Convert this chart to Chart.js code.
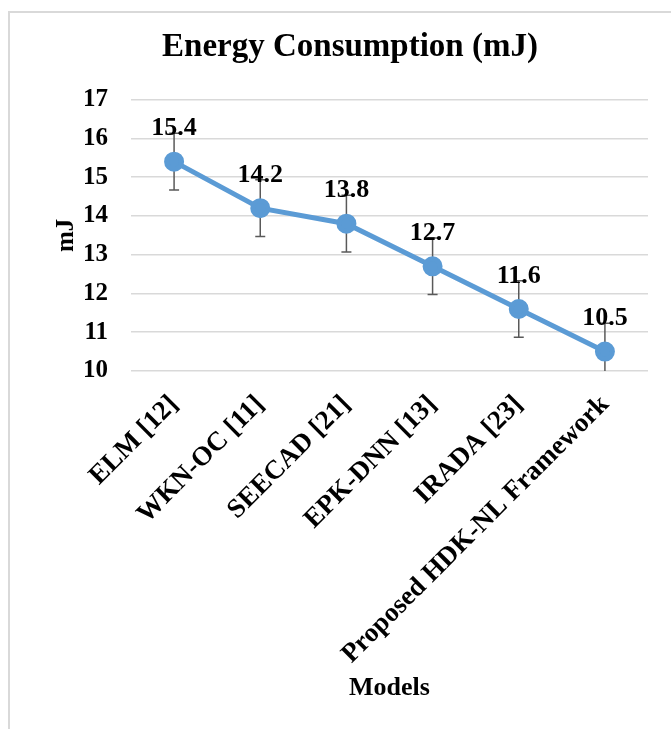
<!DOCTYPE html>
<html>
<head>
<meta charset="utf-8">
<script src="https://cdn.jsdelivr.net/npm/chart.js@4.4.1/dist/chart.umd.min.js"></script>
<style>
  html, body { margin: 0; padding: 0; background: #fff; }
  #wrap { position: relative; width: 671px; height: 729px; }
  #frame { position: absolute; left: 8px; top: 11px; width: 700px; height: 760px; border: 2px solid #d9d9d9; box-sizing: border-box; }
  canvas { position: absolute; left: 0; top: 0; }
</style>
</head>
<body>
<div id="wrap">
  <div id="frame"></div>
  <canvas id="line-chart" width="671" height="729"></canvas>
</div>
<script>
const modelos = ['ELM [12]', 'WKN-OC [11]', 'SEECAD [21]', 'EPK-DNN [13]', 'IRADA [23]', 'Proposed HDK-NL Framework']
const energia = [15.4, 14.2, 13.8, 12.7, 11.6, 10.5]
const erro = [0.73, 0.73, 0.73, 0.73, 0.73, 0.73]
const yTicks = [10, 11, 12, 13, 14, 15, 16, 17]

const fonte = '"Liberation Serif", "Times New Roman", serif'
const azul = '#5B9BD5'

// barras de erro, desenhadas antes da linha
const errorBars = {
    id: 'errorBars',
    beforeDatasetsDraw(chart) {
        const ctx = chart.ctx
        const y = chart.scales.y
        const area = chart.chartArea
        const meta = chart.getDatasetMeta(0)
        ctx.save()
        ctx.beginPath()
        ctx.rect(area.left, area.top - 40, area.right - area.left, area.bottom - area.top + 40)
        ctx.clip()
        ctx.strokeStyle = '#595959'
        ctx.lineWidth = 1.5
        meta.data.forEach((pt, i) => {
            const v = energia[i]
            const top = y.getPixelForValue(v + erro[i])
            const bot = y.getPixelForValue(v - erro[i])
            ctx.beginPath()
            ctx.moveTo(pt.x, top); ctx.lineTo(pt.x, bot)
            ctx.moveTo(pt.x - 5, top); ctx.lineTo(pt.x + 5, top)
            ctx.moveTo(pt.x - 5, bot); ctx.lineTo(pt.x + 5, bot)
            ctx.stroke()
        })
        ctx.restore()
    }
}

// rotulos de valor acima dos pontos
const valueLabels = {
    id: 'valueLabels',
    afterDatasetsDraw(chart) {
        const ctx = chart.ctx
        const meta = chart.getDatasetMeta(0)
        ctx.save()
        ctx.font = 'bold 26px ' + fonte
        ctx.fillStyle = '#000'
        ctx.textAlign = 'center'
        ctx.textBaseline = 'middle'
        meta.data.forEach((pt, i) => {
            ctx.fillText(energia[i].toFixed(1), pt.x, pt.y - 33)
        })
        ctx.restore()
    }
}

new Chart(document.getElementById('line-chart'), {
    type: 'line',
    data: {
        labels: modelos,
        datasets: [
            {
                data: energia,
                label: 'Energy',
                borderColor: azul,
                backgroundColor: azul,
                borderWidth: 5,
                pointRadius: 7.5,
                pointBackgroundColor: azul,
                pointBorderColor: azul,
                fill: false,
                tension: 0
            }
        ]
    },
    options: {
        responsive: false,
        animation: false,
        layout: { padding: { left: 52, right: 23, top: 12, bottom: 20 } },
        plugins: {
            legend: { display: false },
            tooltip: { enabled: false },
            title: {
                display: true,
                text: 'Energy Consumption (mJ)',
                color: '#000',
                font: { family: fonte, size: 33, weight: 'bold' },
                padding: { top: 16, bottom: 32 }
            }
        },
        scales: {
            x: {
                offset: true,
                grid: { display: false },
                border: { display: false },
                ticks: {
                    color: '#000',
                    font: { family: fonte, size: 27, weight: 'bold' },
                    minRotation: 45,
                    maxRotation: 45,
                    padding: 10,
                    autoSkip: false
                },
                title: {
                    display: true,
                    text: 'Models',
                    color: '#000',
                    font: { family: fonte, size: 26, weight: 'bold' },
                    padding: { top: 0, bottom: 5 }
                },
                afterFit(scale) { scale.height = 338 }
            },
            y: {
                min: 10,
                max: 17,
                afterBuildTicks(scale) { scale.ticks = yTicks.map(v => ({ value: v })) },
                grid: { color: '#d9d9d9', lineWidth: 1.5, drawTicks: false },
                border: { display: false },
                ticks: {
                    color: '#000',
                    font: { family: fonte, size: 25, weight: 'bold' },
                    padding: 23
                },
                title: {
                    display: true,
                    text: 'mJ',
                    color: '#000',
                    font: { family: fonte, size: 25, weight: 'bold' },
                    padding: { top: 0, bottom: 0 }
                },
                afterFit(scale) { scale.width = 79 }
            }
        }
    },
    plugins: [errorBars, valueLabels]
});
</script>
</body>
</html>
